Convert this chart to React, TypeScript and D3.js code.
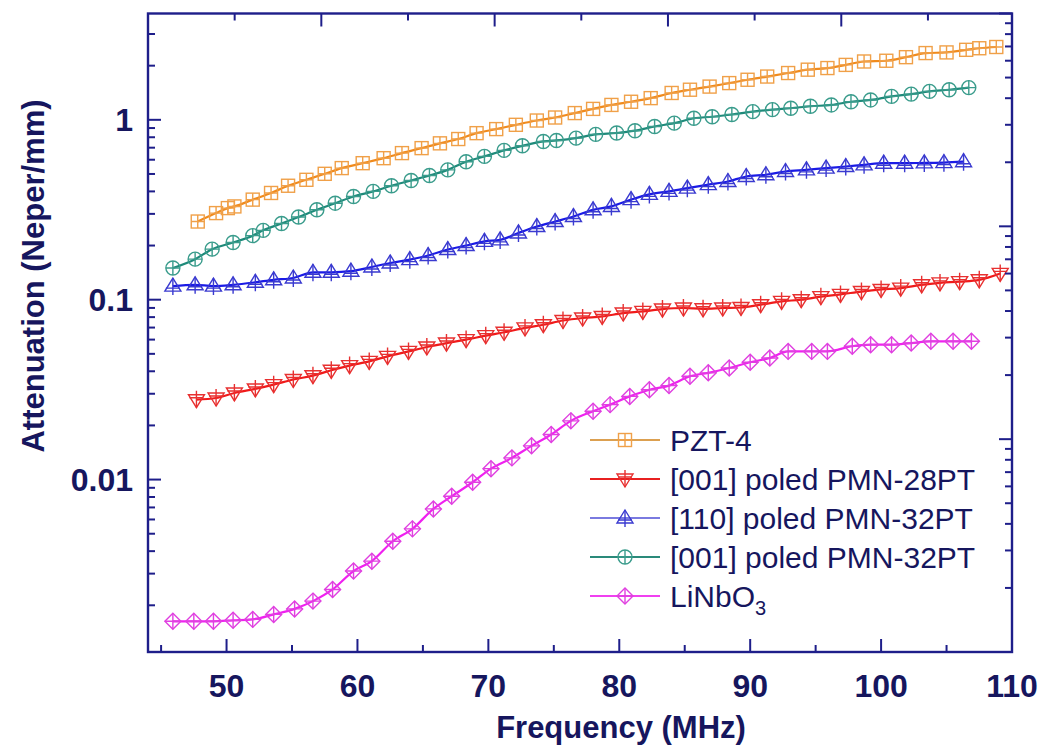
import React from "react";
import * as d3 from "d3";

// ---------- data ----------
const pztFreq = [47.8, 49.2, 50.1, 50.6, 52.0, 53.4, 54.7, 56.1, 57.5, 58.8, 60.4, 62.0, 63.4, 64.9, 66.3, 67.7, 69.1, 70.6, 72.1, 73.7, 75.1, 76.6, 78.0, 79.4, 80.9, 82.4, 84.0, 85.4, 86.9, 88.4, 89.8, 91.3, 92.9, 94.4, 95.9, 97.3, 98.7, 100.4, 101.9, 103.4, 105.0, 106.5, 107.5, 108.8];
const pztAtt = [0.272, 0.303, 0.323, 0.330, 0.360, 0.392, 0.430, 0.464, 0.501, 0.539, 0.574, 0.612, 0.653, 0.696, 0.740, 0.782, 0.843, 0.888, 0.938, 0.991, 1.03, 1.09, 1.15, 1.21, 1.26, 1.32, 1.41, 1.47, 1.53, 1.60, 1.67, 1.74, 1.82, 1.90, 1.94, 2.02, 2.11, 2.13, 2.23, 2.35, 2.37, 2.45, 2.50, 2.54];

const pmn28Freq = [47.7, 49.2, 50.6, 52.2, 53.6, 55.1, 56.6, 58.0, 59.4, 60.9, 62.3, 63.9, 65.3, 66.8, 68.3, 69.8, 71.2, 72.8, 74.2, 75.7, 77.2, 78.7, 80.3, 81.8, 83.3, 84.9, 86.4, 87.9, 89.3, 90.8, 92.4, 93.9, 95.4, 96.9, 98.5, 100.0, 101.5, 103.1, 104.5, 106.0, 107.5, 109.1];
const pmn28Att = [0.0278, 0.0284, 0.0303, 0.0319, 0.0337, 0.0360, 0.0378, 0.0405, 0.0430, 0.0454, 0.0484, 0.0516, 0.0546, 0.0574, 0.0600, 0.0631, 0.0659, 0.0697, 0.0726, 0.0766, 0.0791, 0.0807, 0.0843, 0.0861, 0.0887, 0.0899, 0.0890, 0.0899, 0.0905, 0.0938, 0.0979, 0.100, 0.104, 0.107, 0.111, 0.114, 0.116, 0.121, 0.124, 0.126, 0.129, 0.140];

const pmn32_110Freq = [45.9, 47.6, 49.0, 50.5, 52.2, 53.6, 55.1, 56.6, 58.0, 59.5, 61.1, 62.5, 64.0, 65.4, 66.9, 68.3, 69.7, 70.9, 72.3, 73.7, 75.1, 76.5, 78.0, 79.4, 80.9, 82.3, 83.8, 85.2, 86.8, 88.3, 89.7, 91.2, 92.7, 94.3, 95.8, 97.3, 98.7, 100.2, 101.8, 103.3, 104.8, 106.3];
const pmn32_110Att = [0.119, 0.121, 0.119, 0.121, 0.125, 0.129, 0.132, 0.142, 0.142, 0.144, 0.152, 0.160, 0.167, 0.176, 0.190, 0.200, 0.211, 0.215, 0.235, 0.255, 0.272, 0.290, 0.316, 0.330, 0.360, 0.385, 0.400, 0.417, 0.436, 0.454, 0.484, 0.495, 0.516, 0.527, 0.539, 0.550, 0.562, 0.574, 0.574, 0.576, 0.578, 0.585];

const pmn32_001Freq = [45.9, 47.6, 48.9, 50.5, 52.0, 52.8, 54.2, 55.5, 56.9, 58.3, 59.7, 61.2, 62.6, 64.1, 65.5, 66.9, 68.3, 69.7, 71.2, 72.6, 74.2, 75.2, 76.7, 78.2, 79.8, 81.2, 82.7, 84.2, 85.7, 87.1, 88.6, 90.2, 91.7, 93.1, 94.6, 96.2, 97.7, 99.2, 100.8, 102.3, 103.7, 105.2, 106.7];
const pmn32_001Att = [0.150, 0.168, 0.191, 0.208, 0.227, 0.243, 0.265, 0.288, 0.316, 0.344, 0.375, 0.400, 0.430, 0.460, 0.490, 0.527, 0.585, 0.626, 0.676, 0.717, 0.758, 0.768, 0.791, 0.830, 0.845, 0.870, 0.918, 0.958, 1.02, 1.04, 1.07, 1.11, 1.14, 1.16, 1.19, 1.21, 1.26, 1.29, 1.35, 1.39, 1.44, 1.47, 1.51];

const linbFreq = [45.9, 47.5, 49.0, 50.5, 52.0, 53.6, 55.2, 56.6, 58.1, 59.7, 61.1, 62.7, 64.2, 65.8, 67.2, 68.8, 70.2, 71.8, 73.3, 74.8, 76.3, 78.0, 79.3, 80.8, 82.3, 83.8, 85.4, 86.8, 88.4, 90.0, 91.5, 92.9, 94.7, 95.9, 97.8, 99.2, 100.8, 102.3, 103.8, 105.5, 106.9];
const linbAtt = [0.00163, 0.00163, 0.00163, 0.00165, 0.00167, 0.00178, 0.00191, 0.00211, 0.00245, 0.00310, 0.00352, 0.00454, 0.00532, 0.00687, 0.00808, 0.00966, 0.0115, 0.0132, 0.0154, 0.0178, 0.0212, 0.0240, 0.0261, 0.0290, 0.0316, 0.0333, 0.0375, 0.0392, 0.0417, 0.0449, 0.0474, 0.0516, 0.0516, 0.0516, 0.0551, 0.0562, 0.0562, 0.0574, 0.0587, 0.0587, 0.0587];

const xTicksMajor = [50, 60, 70, 80, 90, 100, 110];
const xTicksMinor = [45, 55, 65, 75, 85, 95, 105];
const yTicksMajor = [0.01, 0.1, 1];
const yTickLabels = ["0.01", "0.1", "1"];
const xDomain = [44, 110];
const yDomain = [0.0011, 3.9];
const rightDomain = [0.01, 10];
const topDomain = [0, 4.985];

// ---------- layout ----------
const W = 1050, H = 753;
const L = 148, R = 1012, T = 13.5, B = 652;
const AXIS = "#1e1e8a";
const TEXT = "#16165e";
const FONT = "'Liberation Sans', Arial, sans-serif";

type MarkerKind = "square" | "down" | "up" | "circle" | "diamond";

const seriesList: { name: string; freq: number[]; att: number[]; line: string; mark: string; legendLine: string; kind: MarkerKind }[] = [
  { name: "PZT-4", freq: pztFreq, att: pztAtt, line: "#f08a1c", mark: "#f0a048", legendLine: "#dca050", kind: "square" },
  { name: "[001] poled PMN-28PT", freq: pmn28Freq, att: pmn28Att, line: "#f01a1a", mark: "#e83030", legendLine: "#e82020", kind: "down" },
  { name: "[110] poled PMN-32PT", freq: pmn32_110Freq, att: pmn32_110Att, line: "#1a1ae6", mark: "#3a3ad0", legendLine: "#7a7ae0", kind: "up" },
  { name: "[001] poled PMN-32PT", freq: pmn32_001Freq, att: pmn32_001Att, line: "#1e8a7a", mark: "#3a9c8c", legendLine: "#2a8a7a", kind: "circle" },
  { name: "LiNbO3", freq: linbFreq, att: linbAtt, line: "#f020f0", mark: "#e040e0", legendLine: "#f040f0", kind: "diamond" },
];

function Marker({ kind, x, y, color }: { kind: MarkerKind; x: number; y: number; color: string }) {
  const sw = 1.4;
  const common = { fill: "none", stroke: color, strokeWidth: sw };
  if (kind === "square") {
    const s = 6.5;
    return (
      <g transform={`translate(${x},${y})`}>
        <rect x={-s} y={-s} width={2 * s} height={2 * s} {...common} />
        <path d={`M${-s},0H${s}M0,${-s}V${s}`} {...common} />
      </g>
    );
  }
  if (kind === "circle") {
    const r = 7;
    return (
      <g transform={`translate(${x},${y})`}>
        <circle r={r} {...common} />
        <path d={`M${-r},0H${r}M0,${-r}V${r}`} {...common} />
      </g>
    );
  }
  if (kind === "diamond") {
    const r = 8;
    return (
      <g transform={`translate(${x},${y})`}>
        <path d={`M0,${-r}L${r},0L0,${r}L${-r},0Z`} {...common} />
        <path d={`M${-r},0H${r}M0,${-r}V${r}`} {...common} />
      </g>
    );
  }
  if (kind === "up") {
    return (
      <g transform={`translate(${x},${y})`}>
        <path d={`M0,-8L8,5L-8,5Z`} {...common} />
        <path d={`M-7,2H7M0,-8V9`} {...common} />
      </g>
    );
  }
  return (
    <g transform={`translate(${x},${y})`}>
      <path d={`M0,8L8,-5L-8,-5Z`} {...common} />
      <path d={`M-7,-2H7M0,-9V8`} {...common} />
    </g>
  );
}

export default function App() {
  const x = d3.scaleLinear().domain(xDomain).range([L, R]);
  const y = d3.scaleLog().domain(yDomain).range([B, T]);
  const yRight = d3.scaleLog().domain(rightDomain).range([B, T]);
  const xTop = d3.scaleLinear().domain(topDomain).range([L, R]);

  const leftMinor: number[] = [];
  [0.001, 0.01, 0.1, 1].forEach((d) => {
    for (let k = 2; k <= 9; k++) {
      const v = d * k;
      if (v >= yDomain[0] && v <= yDomain[1]) leftMinor.push(v);
    }
  });
  const rightMinor: number[] = [];
  [0.01, 0.1, 1].forEach((d) => {
    for (let k = 2; k <= 9; k++) rightMinor.push(d * k);
  });
  const rightMajor = [0.01, 0.1, 1, 10];
  const topMajor = d3.range(1, 5);
  const topMinor = d3.range(0.5, 5, 1);

  const line = d3
    .line<[number, number]>()
    .x((d) => x(d[0]))
    .y((d) => y(d[1]))
    .curve(d3.curveMonotoneX);

  const MAJ = 13, MIN = 7;

  const legendY0 = 440, legendDy = 39;

  return (
    <svg width={W} height={H} style={{ display: "block", position: "absolute", left: 0, top: 0 }} fontFamily={FONT}>
      <rect width={W} height={H} fill="#fff" />
      {/* series */}
      {seriesList.map((s) => {
        const pts = s.freq.map((f, i) => [f, s.att[i]] as [number, number]);
        return (
          <g key={s.name}>
            <path d={line(pts) || ""} fill="none" stroke={s.line} strokeWidth={2.2} />
            {pts.map((p, i) => (
              <Marker key={i} kind={s.kind} x={x(p[0])} y={y(p[1])} color={s.mark} />
            ))}
          </g>
        );
      })}

      {/* ticks */}
      <g stroke={AXIS} strokeWidth={2}>
        {xTicksMajor.map((t) => (
          <line key={"xM" + t} x1={x(t)} x2={x(t)} y1={B} y2={B - MAJ} />
        ))}
        {xTicksMinor.map((t) => (
          <line key={"xm" + t} x1={x(t)} x2={x(t)} y1={B} y2={B - MIN} />
        ))}
        {topMajor.map((t) => (
          <line key={"tM" + t} x1={xTop(t)} x2={xTop(t)} y1={T} y2={T + MAJ} />
        ))}
        {topMinor.map((t) => (
          <line key={"tm" + t} x1={xTop(t)} x2={xTop(t)} y1={T} y2={T + MIN} />
        ))}
        {yTicksMajor.map((t) => (
          <line key={"yM" + t} x1={L} x2={L + MAJ} y1={y(t)} y2={y(t)} />
        ))}
        {leftMinor.map((t, i) => (
          <line key={"ym" + i} x1={L} x2={L + MIN} y1={y(t)} y2={y(t)} />
        ))}
        {rightMajor.map((t) => (
          <line key={"rM" + t} x1={R} x2={R - MAJ} y1={yRight(t)} y2={yRight(t)} />
        ))}
        {rightMinor.map((t, i) => (
          <line key={"rm" + i} x1={R} x2={R - MIN} y1={yRight(t)} y2={yRight(t)} />
        ))}
      </g>
      <rect x={L} y={T} width={R - L} height={B - T} fill="none" stroke={AXIS} strokeWidth={2.4} />

      {/* tick labels */}
      <g fill={TEXT} fontWeight="bold">
        {xTicksMajor.map((t) => (
          <text key={"xl" + t} x={x(t)} y={697} textAnchor="middle" fontSize={32}>
            {t}
          </text>
        ))}
        {yTicksMajor.map((t, i) => (
          <text key={"yl" + t} x={133} y={y(t) + 11} textAnchor="end" fontSize={32}>
            {yTickLabels[i]}
          </text>
        ))}
      </g>

      {/* axis titles */}
      <text x={621} y={738} textAnchor="middle" fill={TEXT} fontWeight="bold" fontSize={31}>
        Frequency (MHz)
      </text>
      <text
        transform={`translate(44,276) rotate(-90)`}
        textAnchor="middle"
        fill={TEXT}
        fontWeight="bold"
        fontSize={31}
      >
        Attenuation (Neper/mm)
      </text>

      {/* legend */}
      {seriesList.map((s, i) => {
        const ly = legendY0 + i * legendDy;
        return (
          <g key={"lg" + s.name}>
            <line x1={590} x2={660} y1={ly} y2={ly} stroke={s.legendLine} strokeWidth={2} />
            <Marker kind={s.kind} x={625} y={ly} color={s.mark} />
            <text x={670} y={ly + 10.5} fill={TEXT} fontSize={30}>
              {s.name === "LiNbO3" ? (
                <>
                  LiNbO
                  <tspan fontSize={20} dy={8}>
                    3
                  </tspan>
                </>
              ) : (
                s.name
              )}
            </text>
          </g>
        );
      })}
    </svg>
  );
}
